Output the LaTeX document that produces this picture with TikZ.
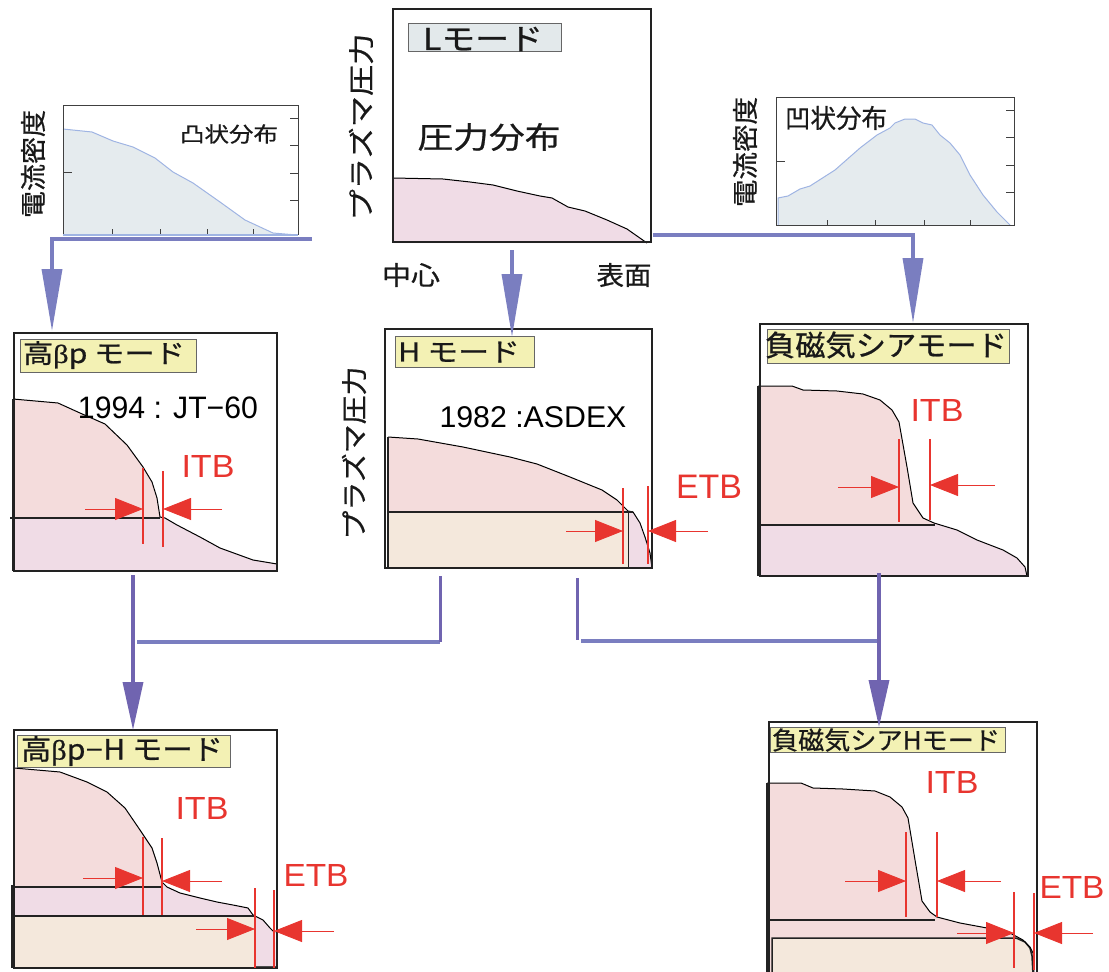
\documentclass[tikz,border=0pt]{standalone}
\usepackage{fontspec}
\usepackage{graphicx}
\setmainfont{Liberation Sans}
\newfontfamily\jp[FakeBold=0.7]{Noto Sans CJK JP}
\newfontfamily\grk[FakeBold=0.5]{Liberation Serif}
\usetikzlibrary{arrows.meta}
\definecolor{plotfill}{HTML}{E5EBEE}
\definecolor{plotline}{HTML}{9FB4E3}
\definecolor{flowc}{HTML}{7A7EC0}
\definecolor{flowv}{HTML}{7064B0}
\definecolor{pinkA}{HTML}{F4DCDC}
\definecolor{pinkB}{HTML}{F0DCE6}
\definecolor{beige}{HTML}{F4E8DC}
\definecolor{labely}{HTML}{F3F1B4}
\definecolor{labelg}{HTML}{E3E9EB}
\definecolor{itbred}{HTML}{E8352F}
\definecolor{boxc}{HTML}{222222}
\newcommand{\fw}[2]{\resizebox{#1}{\height}{#2}}
\tikzset{
  panel/.style={draw=boxc, line width=2pt},
  plotbox/.style={draw=black!75, line width=0.8pt},
  tk/.style={draw=black!75, line width=0.8pt},
  prof/.style={draw=black, line width=1pt, line join=round},
  divider/.style={draw=boxc, line width=1.3pt},
  lbl/.style={draw=black!60, line width=0.8pt, fill=labely},
  txt/.style={inner sep=0pt, anchor=center},
  jtxt/.style={txt, text=black!90, font=\jp\fontsize{#1}{#1}\selectfont},
  rtxt/.style={txt, text=itbred, font=\fontsize{#1}{#1}\selectfont},
  redline/.style={draw=itbred, line width=1.6pt},
  redarrow/.style={draw=itbred, line width=0.8pt, -{Triangle[length=28pt,width=22pt]}},
  flow/.style={draw=flowc, line width=4.5pt},
  flowdown/.style={draw=flowv, line width=3.5pt, -{Triangle[length=#1,width=20pt]}},
}
\begin{document}
\begin{tikzpicture}[x=1pt,y=-1pt]
\useasboundingbox (0,0) rectangle (1109,972);

% ---------------- top-left current density plot ----------------
\fill[plotfill] (63,234) -- (63,129) -- (92,132) -- (113,141) -- (133,147) -- (155,158) -- (173,172) -- (193,183) -- (220,202) -- (245,220) -- (273,233) -- (297,235) -- cycle;
\draw[plotline, line width=1pt] (63,129) -- (92,132) -- (113,141) -- (133,147) -- (155,158) -- (173,172) -- (193,183) -- (220,202) -- (245,220) -- (273,233) -- (297,235);
\draw[plotbox] (63,105) rectangle (298,234);
\foreach \yy in {118,145,173,200} \draw[tk] (290,\yy) -- (298,\yy);
\draw[tk] (63,172) -- (72,172);
\foreach \xx in {112,160,207,253} \draw[tk] (\xx,234) -- (\xx,229);
\draw[plotline, line width=2pt] (63,235) -- (298,235);
\node[jtxt=21] (cvx) at (229,134) {\fw{98pt}{凸状分布}};
\node[jtxt=26, rotate=90] (jL) at (33,164) {\fw{108pt}{電流密度}};

% ---------------- top-right current density plot ----------------
\fill[plotfill] (778,225) -- (778,198) -- (788,196) -- (800,189) -- (810,186) -- (835,170) -- (860,148) -- (877,135) -- (890,128) -- (895,123) -- (905,119) -- (915,119) -- (923,123) -- (932,125) -- (940,135) -- (950,143) -- (960,155) -- (970,175) -- (983,195) -- (997,212) -- (1010,225) -- cycle;
\draw[plotline, line width=1pt] (778,225) -- (778,198) -- (788,196) -- (800,189) -- (810,186) -- (835,170) -- (860,148) -- (877,135) -- (890,128) -- (895,123) -- (905,119) -- (915,119) -- (923,123) -- (932,125) -- (940,135) -- (950,143) -- (960,155) -- (970,175) -- (983,195) -- (997,212) -- (1010,225);
\draw[plotbox] (776,97) rectangle (1014,225);
\foreach \yy in {110,137,165,192} \draw[tk] (1006,\yy) -- (1014,\yy);
\draw[tk] (776,161) -- (785,161);
\foreach \xx in {827,875,924,970} \draw[tk] (\xx,225) -- (\xx,220);
\node[jtxt=26] (ccv) at (836,118) {\fw{102pt}{凹状分布}};
\node[jtxt=26, rotate=90] (jR) at (745,152) {\fw{110pt}{電流密度}};

% ---------------- L mode panel ----------------
\fill[pinkB] (393,178) -- (443,179) -- (470,182) -- (493,185) -- (517,191) -- (540,196) -- (552,198) -- (568,207) -- (585,211) -- (607,220) -- (627,229) -- (647,243) -- (393,243) -- cycle;
\draw[prof] (393,178) -- (443,179) -- (470,182) -- (493,185) -- (517,191) -- (540,196) -- (552,198) -- (568,207) -- (585,211) -- (607,220) -- (627,229) -- (647,243);
\draw[panel] (393,9) rectangle (651,242);
\draw[draw=boxc, line width=2.5pt] (393,178) -- (393,242);
\draw[lbl, fill=labelg] (408,23) rectangle (561,51);
\node[jtxt=30] (Lname) at (483,39) {\fw{120pt}{Lモード}};
\node[jtxt=30] (pd) at (489,137) {\fw{143pt}{圧力分布}};
\node[jtxt=26, rotate=90] (pL) at (361,127) {\fw{187pt}{プラズマ圧力}};
\node[jtxt=26] (ctr) at (411,275) {\fw{58pt}{中心}};
\node[jtxt=26] (srf) at (624,275) {\fw{55pt}{表面}};

% ---------------- high beta-p panel ----------------
\fill[pinkB] (13,399) -- (58,403) -- (80,413) -- (105,424) -- (127,445) -- (143,467) -- (152,482) -- (157,498) -- (160,517) -- (165,518) -- (177,525) -- (200,537) -- (220,548) -- (253,560) -- (277,564) -- (277,571) -- (13,571) -- cycle;
\fill[pinkA] (13,399) -- (58,403) -- (80,413) -- (105,424) -- (127,445) -- (143,467) -- (152,482) -- (157,498) -- (160,517) -- (13,518) -- cycle;
\draw[prof] (13,399) -- (58,403) -- (80,413) -- (105,424) -- (127,445) -- (143,467) -- (152,482) -- (157,498) -- (160,517) -- (165,518) -- (177,525) -- (200,537) -- (220,548) -- (253,560) -- (277,564);
\draw[divider] (10,518) -- (160,518);
\draw[draw=boxc, line width=1.5pt] (13,399) -- (13,571);
\draw[panel] (14,333) rectangle (277,571);
\draw[lbl] (20,339) rectangle (196,372);
\node[jtxt=26] (hbpn) at (104,355) {\fw{162pt}{高{\grk β}p モード}};
\node[txt, font=\fontsize{31}{31}\selectfont] (jt60) at (168,408) {\fw{180pt}{1994 : JT−60}};
\draw[redline] (143,468) -- (143,544);
\draw[redline] (163,471) -- (163,547);
\draw[redarrow] (85,509) -- (143,509);
\draw[redarrow] (222,509) -- (163,509);
\node[rtxt=32] (itb1) at (208,466) {\fw{53pt}{ITB}};

% ---------------- H mode panel ----------------
\fill[pinkB] (388,437) -- (418,439) -- (463,447) -- (510,457) -- (537,464) -- (570,477) -- (602,490) -- (617,500) -- (628,511) -- (633,512) -- (640,523) -- (645,537) -- (650,553) -- (652,568) -- (388,568) -- cycle;
\fill[pinkA] (388,437) -- (418,439) -- (463,447) -- (510,457) -- (537,464) -- (570,477) -- (602,490) -- (617,500) -- (628,511) -- (633,512) -- (388,512) -- cycle;
\fill[beige] (388,512) rectangle (628,568);
\draw[prof] (388,437) -- (418,439) -- (463,447) -- (510,457) -- (537,464) -- (570,477) -- (602,490) -- (617,500) -- (628,511) -- (633,512) -- (640,523) -- (645,537) -- (650,553) -- (652,568);
\draw[divider] (388,512) -- (633,512);
\draw[draw=boxc, line width=1pt] (628,512) -- (628,568);
\draw[draw=boxc, line width=1.5pt] (388,437) -- (388,568);
\draw[panel] (385,329) rectangle (652,568);
\draw[lbl] (395,336) rectangle (534,367);
\node[jtxt=26] (hn) at (459,352) {\fw{122pt}{H モード}};
\node[txt, font=\fontsize{30}{30}\selectfont] (asdex) at (533,417) {\fw{187pt}{1982 :ASDEX}};
\node[jtxt=26, rotate=90] (pH) at (354,453) {\fw{173pt}{プラズマ圧力}};
\draw[redline] (623,488) -- (623,564);
\draw[redline] (648,486) -- (648,564);
\draw[redarrow] (566,531) -- (623,531);
\draw[redarrow] (708,531) -- (648,531);
\node[rtxt=34] (etb1) at (709,487) {\fw{66pt}{ETB}};

% ---------------- negative shear panel ----------------
\fill[pinkB] (758,386) -- (792,386) -- (803,390) -- (837,391) -- (863,394) -- (880,400) -- (892,410) -- (899,422) -- (907,467) -- (913,503) -- (923,518) -- (934,523) -- (957,530) -- (977,540) -- (1003,550) -- (1017,558) -- (1025,567) -- (1027,576) -- (758,576) -- cycle;
\fill[pinkA] (758,386) -- (792,386) -- (803,390) -- (837,391) -- (863,394) -- (880,400) -- (892,410) -- (899,422) -- (907,467) -- (913,503) -- (923,518) -- (934,523) -- (934,525) -- (758,525) -- cycle;
\draw[prof] (758,386) -- (792,386) -- (803,390) -- (837,391) -- (863,394) -- (880,400) -- (892,410) -- (899,422) -- (907,467) -- (913,503) -- (923,518) -- (934,523) -- (957,530) -- (977,540) -- (1003,550) -- (1017,558) -- (1025,567) -- (1027,576);
\draw[divider] (760,525) -- (935,525);
\draw[draw=boxc, line width=1.5pt] (758,386) -- (758,576);
\draw[panel] (760,324) rectangle (1028,576);
\draw[lbl] (767,329) rectangle (1009,363);
\node[jtxt=29] (nsn) at (886,345) {\fw{242pt}{負磁気シアモード}};
\draw[redline] (899,439) -- (899,522);
\draw[redline] (930,439) -- (930,520);
\draw[redarrow] (838,487) -- (899,487);
\draw[redarrow] (995,485) -- (930,485);
\node[rtxt=32] (itb2) at (937,410) {\fw{53pt}{ITB}};

% ---------------- high beta-p H panel ----------------
\fill[pinkB] (14,768) -- (60,772) -- (87,782) -- (107,792) -- (125,808) -- (140,830) -- (152,848) -- (157,863) -- (162,882) -- (167,887) -- (180,893) -- (200,898) -- (217,902) -- (233,905) -- (248,908) -- (253,915) -- (263,920) -- (270,928) -- (275,933) -- (276,968) -- (14,968) -- cycle;
\fill[pinkA] (14,768) -- (60,772) -- (87,782) -- (107,792) -- (125,808) -- (140,830) -- (152,848) -- (157,863) -- (162,882) -- (163,887) -- (14,887) -- cycle;
\fill[beige] (14,916) rectangle (255,968);
\draw[prof] (14,768) -- (60,772) -- (87,782) -- (107,792) -- (125,808) -- (140,830) -- (152,848) -- (157,863) -- (162,882) -- (167,887) -- (180,893) -- (200,898) -- (217,902) -- (233,905) -- (248,908) -- (253,915) -- (263,920) -- (270,928) -- (275,933);
\draw[divider] (12,887) -- (163,887);
\draw[divider] (12,916) -- (255,916);
\draw[draw=boxc, line width=2pt] (12,885) -- (12,968);
\draw[draw=black!70, line width=3pt] (255,967) -- (276,967);
\draw[panel] (14,730) rectangle (277,968);
\draw[lbl] (17,735) rectangle (230,767);
\node[jtxt=28] (hbphn) at (122,751) {\fw{202pt}{高{\grk β}p{\rmfamily −}H モード}};
\draw[redline] (143,837) -- (143,915);
\draw[redline] (162,838) -- (162,915);
\draw[redarrow] (83,878) -- (143,878);
\draw[redarrow] (222,881) -- (162,881);
\node[rtxt=32] (itb3) at (202,808) {\fw{53pt}{ITB}};
\draw[redline] (255,888) -- (255,968);
\draw[redline] (274,890) -- (274,968);
\draw[redarrow] (196,929) -- (255,929);
\draw[redarrow] (334,931) -- (274,931);
\node[rtxt=32] (etb2) at (316,875) {\fw{65pt}{ETB}};

% ---------------- negative shear H panel ----------------
\fill[pinkA] (767,783) -- (801,783) -- (813,788) -- (843,789) -- (875,791) -- (890,797) -- (902,807) -- (908,818) -- (915,860) -- (922,901) -- (930,912) -- (937,917) -- (960,923) -- (987,928) -- (1010,933) -- (1023,940) -- (1030,947) -- (1033,953) -- (1034,975) -- (767,975) -- cycle;
\filldraw[fill=beige, draw=boxc, line width=1.5pt] (772,938) -- (1016,938) -- (1025,942) -- (1030,948) -- (1032,956) -- (1033,975) -- (772,975) -- cycle;
\draw[prof] (767,783) -- (801,783) -- (813,788) -- (843,789) -- (875,791) -- (890,797) -- (902,807) -- (908,818) -- (915,860) -- (922,901) -- (930,912) -- (937,917) -- (960,923) -- (987,928) -- (1010,933) -- (1023,940) -- (1030,947) -- (1033,953) -- (1034,975);
\draw[divider] (769,920) -- (935,920);
\draw[draw=boxc, line width=1.5pt] (767,783) -- (767,975);
\draw[panel] (769,722) rectangle (1037,980);
\draw[lbl] (770,727) rectangle (1005,752);
\node[jtxt=25] (nshn) at (886,740) {\fw{228pt}{負磁気シアHモード}};
\draw[redline] (906,832) -- (906,917);
\draw[redline] (937,832) -- (937,917);
\draw[redarrow] (845,881) -- (906,881);
\draw[redarrow] (1001,881) -- (937,881);
\node[rtxt=32] (itb4) at (952,782) {\fw{53pt}{ITB}};
\draw[redline] (1014,892) -- (1014,968);
\draw[redline] (1034,893) -- (1034,970);
\draw[redarrow] (957,933) -- (1014,933);
\draw[redarrow] (1093,933) -- (1034,933);
\node[rtxt=32] (etb3) at (1072,887) {\fw{65pt}{ETB}};

% ---------------- connectors ----------------
\coordinate (cA1) at (312,239);
\coordinate (cA2) at (52,239);
\coordinate (cA3) at (52,331);
\coordinate (cB1) at (512,250);
\coordinate (cB2) at (512,337);
\coordinate (cC1) at (653,235);
\coordinate (cC2) at (913,235);
\coordinate (cC3) at (913,323);
\draw[flow] (cA1) -- (cA2) -- ([yshift=-2pt]cA2 |- 0,260);
\draw[flowdown=62pt, draw=flowc] ([yshift=-2pt]cA2) -- (cA3);
\draw[flowdown=63pt, draw=flowc] (cB1) -- (cB2);
\draw[flow] (cC1) -- (cC2) -- ([yshift=2pt]cC2 |- 0,250);
\draw[flowdown=65pt, draw=flowc] ([yshift=2pt]cC2) -- (cC3);

\coordinate (dL1) at (133,575);
\coordinate (dL2) at (133,730);
\coordinate (dM1) at (440,576);
\coordinate (dM2) at (440,642);
\coordinate (dM3) at (137,642);
\coordinate (dN1) at (577,578);
\coordinate (dN2) at (577,640);
\coordinate (dN3) at (581,641);
\coordinate (dR1) at (879,573);
\coordinate (dR2) at (879,727);
\coordinate (dR3) at (879,641);
\draw[flowdown=48pt] (dL1) -- (dL2);
\draw[flow] (dM3) -- (dM2);
\draw[draw=flowv, line width=3pt] (dM1) -- (dM2);
\draw[draw=flowv, line width=3pt] (dN1) -- (dN2);
\draw[flow] (dN3) -- (dR3);
\draw[flowdown=47pt] (dR1) -- (dR2);
\end{tikzpicture}
\end{document}
